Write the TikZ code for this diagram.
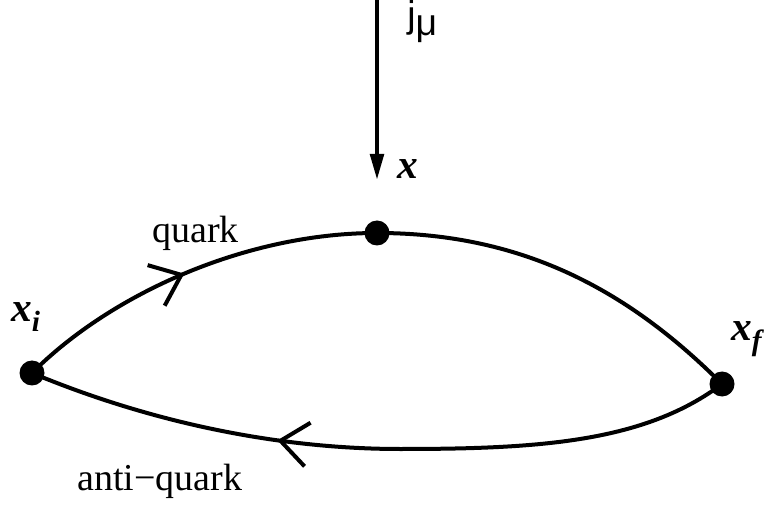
\documentclass[tikz,border=0pt]{standalone}
\usepackage{fontspec}
\setmainfont{Liberation Serif}
\newfontfamily\sansf{Liberation Sans}
\usetikzlibrary{arrows.meta,decorations.markings}
\begin{document}
\begin{tikzpicture}[x=0.75pt,y=-0.75pt,
  curve/.style={line width=3pt},
  dot/.style={circle,fill=black,inner sep=0pt,minimum size=18.75pt},
  lbl/.style={inner sep=0pt,anchor=base west,font=\fontsize{28.5}{32}\selectfont},
  xlbl/.style={inner sep=0pt,anchor=base west,font=\fontsize{31}{34}\selectfont\bfseries\itshape},
  barb/.style={postaction={decorate},decoration={markings,mark=at position #1 with {\arrow{Straight Barb[length=20.5pt,width=33pt,line width=3pt]}}}}
]
\useasboundingbox (0,0) rectangle (770,505);
% dots
\node[dot] (L) at (32,373) {};
\node[dot] (T) at (377,233) {};
\node[dot] (R) at (722,384) {};
\coordinate (M) at (400,449);
% current
\coordinate (jtop) at (377,0);
\coordinate (jend) at (377,180);
\draw[line width=3.2pt,-{Triangle[length=19.5pt,width=10pt]}] (jtop) -- (jend);
% quark line
\draw[curve,barb=0.48] (L.center) .. controls (112,293) and (247,233) .. (T.center);
\draw[curve] (T.center) .. controls (527,233) and (632,294) .. (R.center);
% anti-quark line
\draw[curve,barb=0.642] (R.center) .. controls (645,442) and (540,449) .. (M)
   .. controls (280,449) and (152,423) .. (L.center);
% labels
\node[inner sep=0pt,anchor=base west,font=\fontsize{28}{32}\selectfont\sansf] (jl) at (407,28) {j\raisebox{-5.5pt}{μ}};
\node[xlbl] (xl) at (397,179) {x};
\node[lbl] (ql) at (152,243) {quark};
\node[lbl] (al) at (77,490) {anti−quark};
\node[xlbl] (xil) at (11,322) {x\raisebox{-7pt}{\fontsize{22}{24}\selectfont i}};
\node[xlbl] (xfl) at (731,341) {x\raisebox{-7pt}{\fontsize{22}{24}\selectfont f}};
\end{tikzpicture}
\end{document}
